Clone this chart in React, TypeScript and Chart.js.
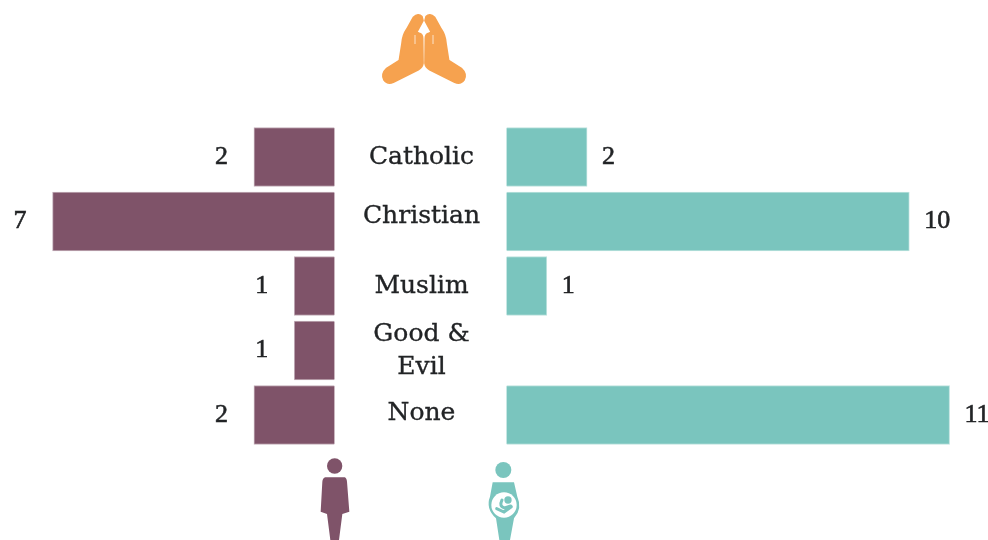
import React, { useEffect, useRef } from "react";
import { Chart, registerables } from "chart.js";

Chart.register(...registerables);

const categories = ["Catholic", "Christian", "Muslim", "Good & Evil", "None"];
const categoryLines = [["Catholic"], ["Christian"], ["Muslim"], ["Good &", "Evil"], ["None"]];
const categoryShift = [0, -5, 0, 0, -2];
const womenValues = [2, 7, 1, 1, 2];
const pregnantValues = [2, 10, 1, null, 11];

const PURPLE = "#7F5369";
const PURPLE_EDGE = "#C3AEB9";
const TEAL = "#7AC5BE";
const TEAL_EDGE = "#BDE2DE";
const ORANGE = "#F6A24F";
const INK = "#222426";
const LABEL_FONT = '25px "DejaVu Serif", serif';
const VALUE_FONT = '26px "Liberation Serif", serif';

const UNIT = 40.28;
const LEFT_ZERO = 334.5;
const RIGHT_ZERO = 506.5;
const WIDTH = 988;

const textPlugin = {
  id: "butterflyText",
  afterDatasetsDraw(chart: any) {
    const { ctx } = chart;
    ctx.save();
    ctx.fillStyle = INK;
    ctx.strokeStyle = INK;
    ctx.textBaseline = "middle";
    ctx.font = VALUE_FONT;
    ctx.lineWidth = 0.6;
    const put = (t: string, x: number, y: number) => {
      ctx.fillText(t, x, y);
      ctx.strokeText(t, x, y);
    };
    ctx.textAlign = "right";
    chart.getDatasetMeta(0).data.forEach((bar: any, i: number) => {
      const v = womenValues[i];
      if (v != null) put(String(v), bar.x - 26, bar.y);
    });
    ctx.textAlign = "left";
    chart.getDatasetMeta(1).data.forEach((bar: any, i: number) => {
      const v = pregnantValues[i];
      if (v != null) put(String(v), bar.x + 15, bar.y);
    });
    ctx.font = LABEL_FONT;
    ctx.lineWidth = 0.35;
    ctx.textAlign = "center";
    const midX = 421.5;
    categoryLines.forEach((lines, i) => {
      const y = chart.scales.y.getPixelForValue(i) + categoryShift[i];
      const lh = 33;
      lines.forEach((t, j) => {
        put(t, midX, y + (j - (lines.length - 1) / 2) * lh);
      });
    });
    ctx.restore();
  },
};

export default function App() {
  const ref = useRef<HTMLCanvasElement>(null);
  useEffect(() => {
    const chart = new Chart(ref.current!, {
      type: "bar",
      data: {
        labels: categories,
        datasets: [
          {
            label: "Women",
            data: womenValues,
            backgroundColor: PURPLE,
            borderColor: PURPLE_EDGE,
            borderWidth: 1,
            xAxisID: "xL",
            grouped: false,
            barThickness: 59,
          },
          {
            label: "Pregnant women",
            data: pregnantValues,
            backgroundColor: TEAL,
            borderColor: TEAL_EDGE,
            borderWidth: 1,
            xAxisID: "xR",
            grouped: false,
            barThickness: 59,
          },
        ] as any,
      },
      options: {
        indexAxis: "y",
        animation: false,
        responsive: false,
        layout: { padding: { top: 124.75, bottom: 92.75, left: 0, right: 0 } },
        plugins: { legend: { display: false }, tooltip: { enabled: false } },
        scales: {
          y: { display: false, type: "category" },
          xL: {
            display: false,
            type: "linear",
            reverse: true,
            min: -(WIDTH - LEFT_ZERO) / UNIT,
            max: LEFT_ZERO / UNIT,
          },
          xR: {
            display: false,
            type: "linear",
            min: -RIGHT_ZERO / UNIT,
            max: (WIDTH - RIGHT_ZERO) / UNIT,
          },
        },
      } as any,
      plugins: [textPlugin],
    });
    return () => chart.destroy();
  }, []);

  return (
    <div style={{ position: "fixed", left: 0, top: 0, width: WIDTH, height: 540, background: "#fff", overflow: "hidden" }}>
      <canvas ref={ref} width={WIDTH} height={540} style={{ display: "block" }} />
      <svg style={{ position: "absolute", left: 360, top: 0 }} width={130} height={100} viewBox="0 0 390 300">
        <g fill={ORANGE} stroke={ORANGE} strokeWidth="5" strokeLinejoin="round">
          <path d="M160,52 Q175,38 186,50 L189,62 L170,97 L178,100 Q188,103 188,115 L189,190 Q187,202 175,209 L100,247 Q82,254 72,240 Q62,222 80,205 L118,181 L126,130 Q128,105 140,88 Z" />
          <path d="M224,52 Q209,38 198,50 L195,62 L214,97 L206,100 Q196,103 196,115 L195,190 Q197,202 209,209 L284,247 Q302,254 312,240 Q322,222 304,205 L266,181 L258,130 Q256,105 244,88 Z" />
        </g>
        <path d="M165,105 V132 M219,105 V132" stroke="#fff" strokeWidth="3" opacity="0.7" fill="none" />
      </svg>
      <svg style={{ position: "absolute", left: 300, top: 450 }} width={240} height={90} viewBox="0 0 720 270">
        <g fill={PURPLE}>
          <circle cx={104} cy={48} r={23} />
          <path d="M76,82 H134 Q140,84 141,95 L148,185 L127,192 L117,270 H91 L81,192 L62,185 L67,95 Q68,84 76,82 Z" />
        </g>
        <g fill={TEAL}>
          <circle cx={610} cy={60} r={24} />
          <path d="M578,97 H642 L652,140 Q668,175 642,205 L630,270 H598 L588,205 Q556,175 570,140 Z" />
        </g>
        <circle cx={612} cy={165} r={38} fill="#fff" />
        <circle cx={624} cy={150} r={11} fill={TEAL} />
        <path d="M606,150 Q596,170 614,174 L632,168 M590,176 L612,186 L634,170" fill="none" stroke={TEAL} strokeWidth="9" strokeLinecap="round" />
      </svg>
    </div>
  );
}
